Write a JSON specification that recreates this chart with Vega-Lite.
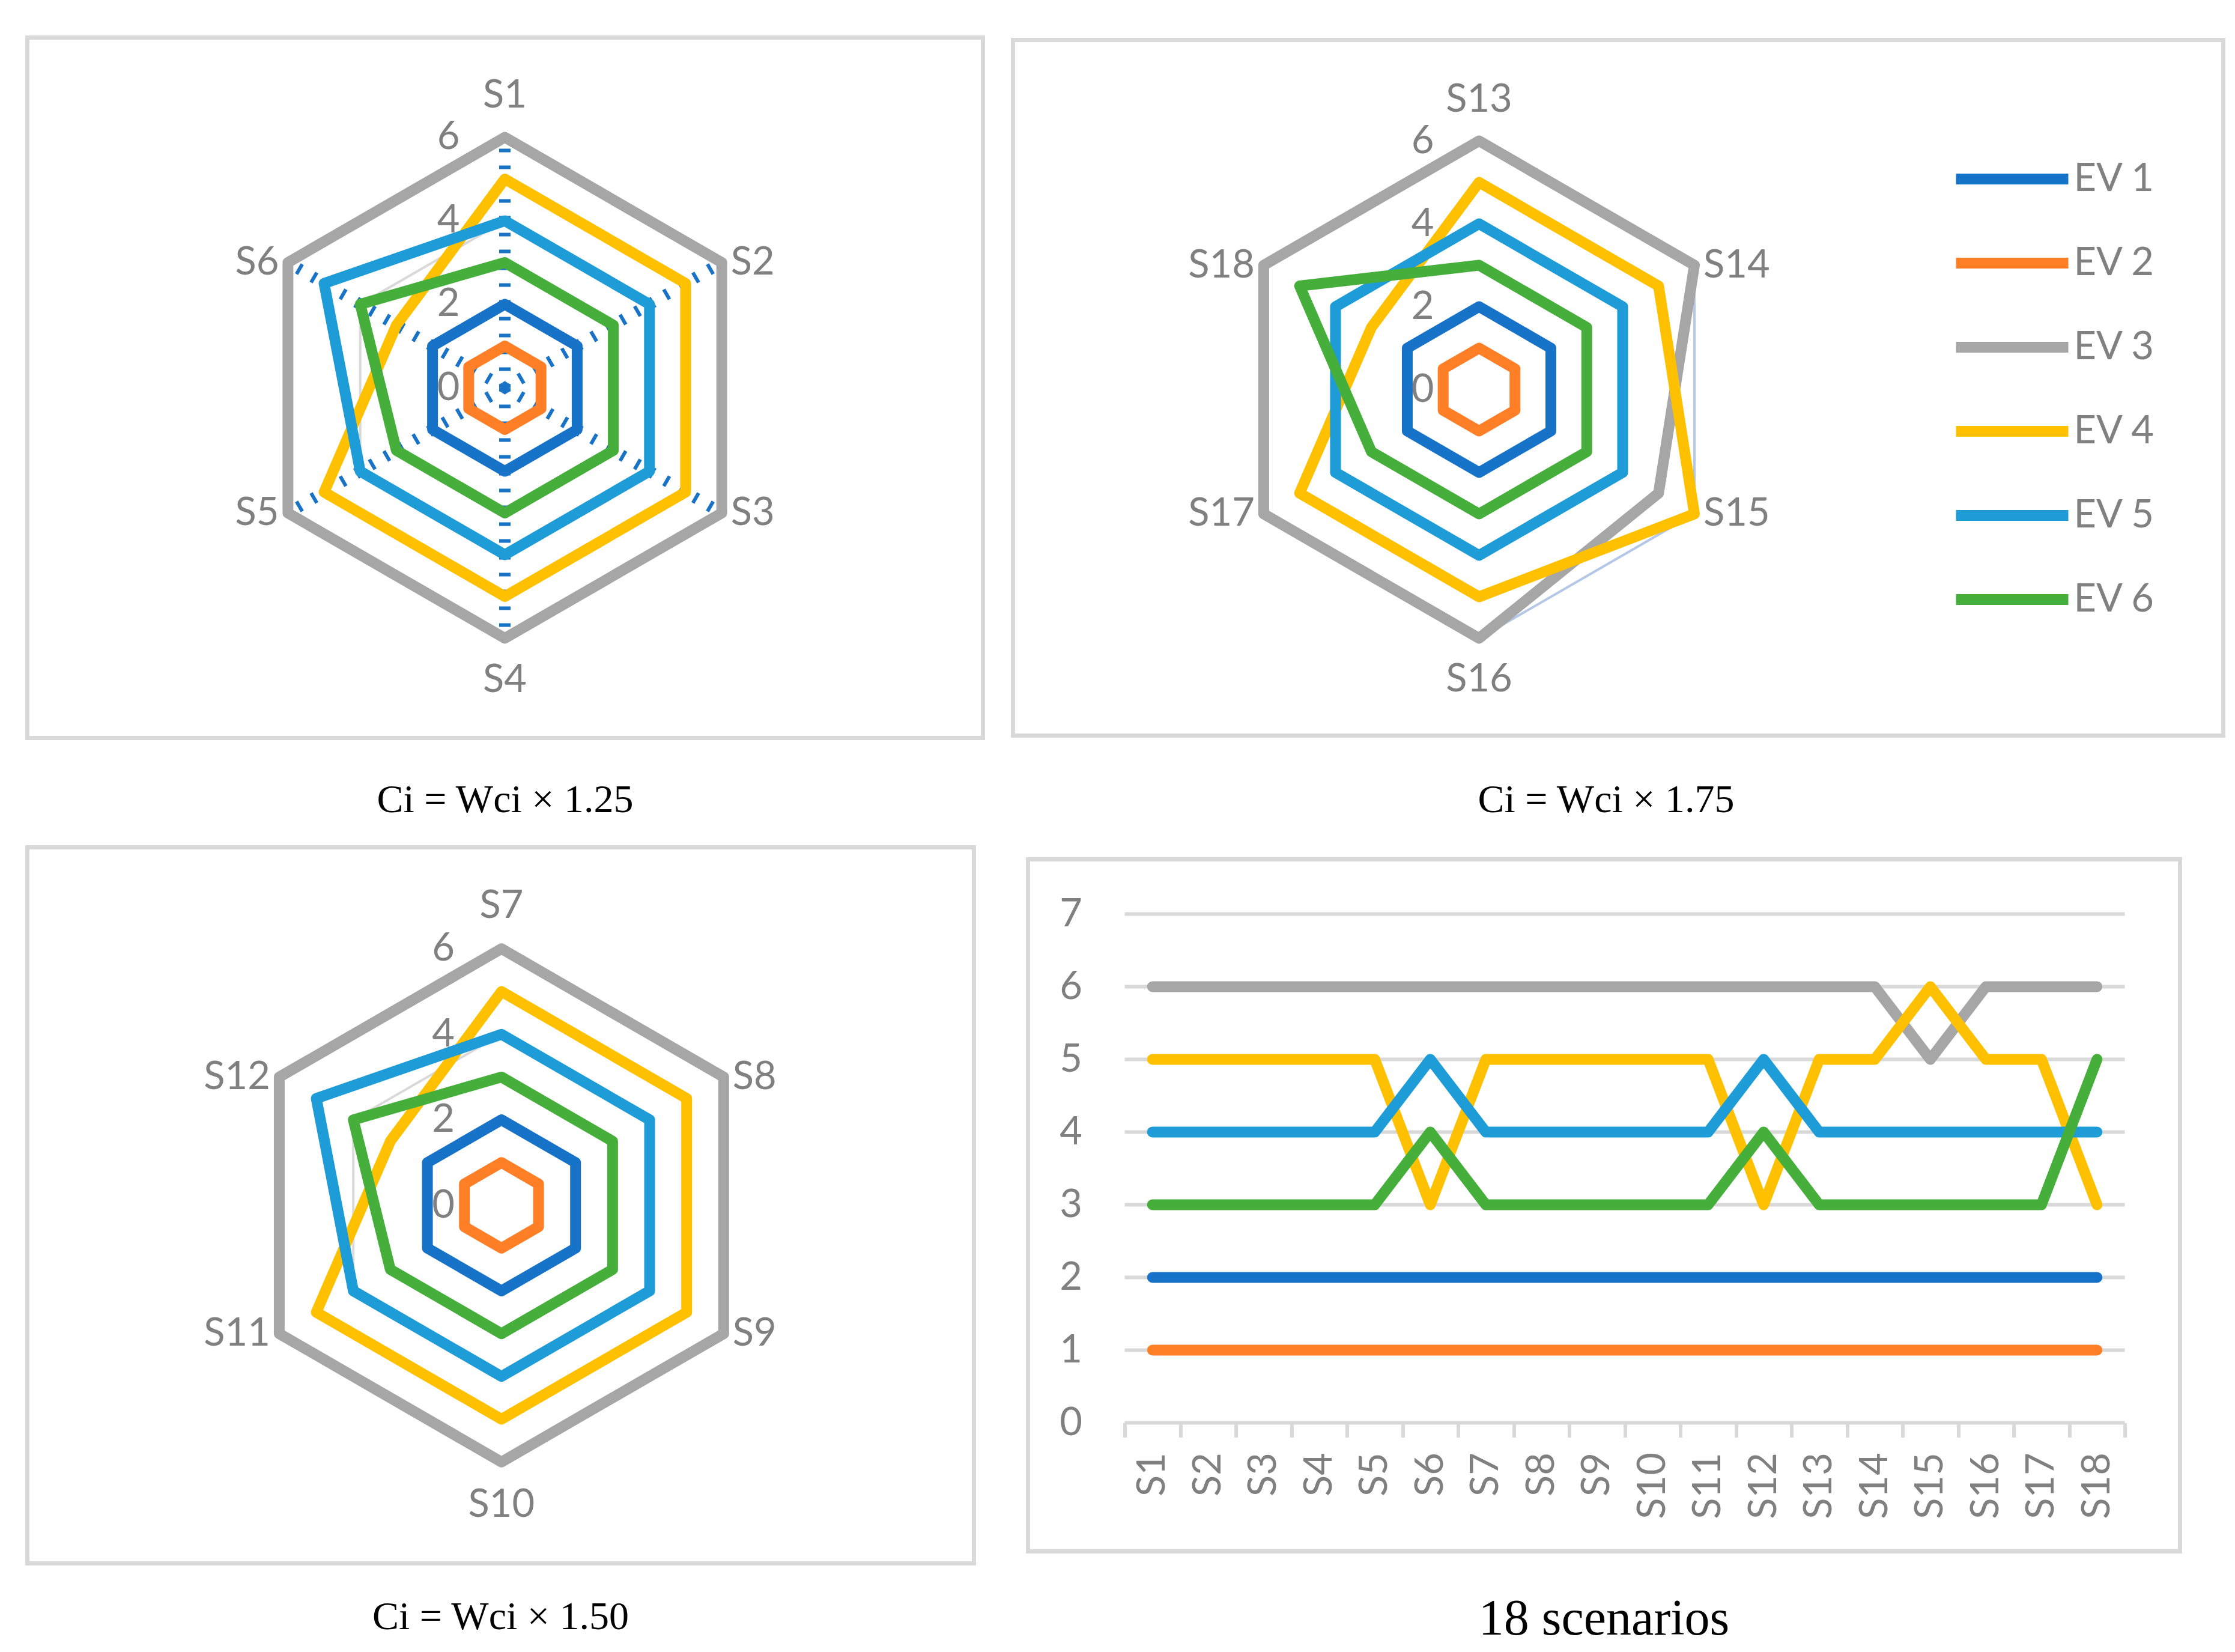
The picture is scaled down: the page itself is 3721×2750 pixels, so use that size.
{
  "$schema": "https://vega.github.io/schema/vega-lite/v6.json",
  "background": "white",
  "padding": {"left": 41.5, "top": 58.5, "right": 0, "bottom": 0},
  "autosize": {"type": "pad"},
  "datasets": {
    "scores": [
      {"scenario": "S1", "ev": "EV 1", "value": 2}, {"scenario": "S1", "ev": "EV 2", "value": 1}, {"scenario": "S1", "ev": "EV 3", "value": 6}, {"scenario": "S1", "ev": "EV 4", "value": 5}, {"scenario": "S1", "ev": "EV 5", "value": 4}, {"scenario": "S1", "ev": "EV 6", "value": 3},
      {"scenario": "S2", "ev": "EV 1", "value": 2}, {"scenario": "S2", "ev": "EV 2", "value": 1}, {"scenario": "S2", "ev": "EV 3", "value": 6}, {"scenario": "S2", "ev": "EV 4", "value": 5}, {"scenario": "S2", "ev": "EV 5", "value": 4}, {"scenario": "S2", "ev": "EV 6", "value": 3},
      {"scenario": "S3", "ev": "EV 1", "value": 2}, {"scenario": "S3", "ev": "EV 2", "value": 1}, {"scenario": "S3", "ev": "EV 3", "value": 6}, {"scenario": "S3", "ev": "EV 4", "value": 5}, {"scenario": "S3", "ev": "EV 5", "value": 4}, {"scenario": "S3", "ev": "EV 6", "value": 3},
      {"scenario": "S4", "ev": "EV 1", "value": 2}, {"scenario": "S4", "ev": "EV 2", "value": 1}, {"scenario": "S4", "ev": "EV 3", "value": 6}, {"scenario": "S4", "ev": "EV 4", "value": 5}, {"scenario": "S4", "ev": "EV 5", "value": 4}, {"scenario": "S4", "ev": "EV 6", "value": 3},
      {"scenario": "S5", "ev": "EV 1", "value": 2}, {"scenario": "S5", "ev": "EV 2", "value": 1}, {"scenario": "S5", "ev": "EV 3", "value": 6}, {"scenario": "S5", "ev": "EV 4", "value": 5}, {"scenario": "S5", "ev": "EV 5", "value": 4}, {"scenario": "S5", "ev": "EV 6", "value": 3},
      {"scenario": "S6", "ev": "EV 1", "value": 2}, {"scenario": "S6", "ev": "EV 2", "value": 1}, {"scenario": "S6", "ev": "EV 3", "value": 6}, {"scenario": "S6", "ev": "EV 4", "value": 3}, {"scenario": "S6", "ev": "EV 5", "value": 5}, {"scenario": "S6", "ev": "EV 6", "value": 4},
      {"scenario": "S7", "ev": "EV 1", "value": 2}, {"scenario": "S7", "ev": "EV 2", "value": 1}, {"scenario": "S7", "ev": "EV 3", "value": 6}, {"scenario": "S7", "ev": "EV 4", "value": 5}, {"scenario": "S7", "ev": "EV 5", "value": 4}, {"scenario": "S7", "ev": "EV 6", "value": 3},
      {"scenario": "S8", "ev": "EV 1", "value": 2}, {"scenario": "S8", "ev": "EV 2", "value": 1}, {"scenario": "S8", "ev": "EV 3", "value": 6}, {"scenario": "S8", "ev": "EV 4", "value": 5}, {"scenario": "S8", "ev": "EV 5", "value": 4}, {"scenario": "S8", "ev": "EV 6", "value": 3},
      {"scenario": "S9", "ev": "EV 1", "value": 2}, {"scenario": "S9", "ev": "EV 2", "value": 1}, {"scenario": "S9", "ev": "EV 3", "value": 6}, {"scenario": "S9", "ev": "EV 4", "value": 5}, {"scenario": "S9", "ev": "EV 5", "value": 4}, {"scenario": "S9", "ev": "EV 6", "value": 3},
      {"scenario": "S10", "ev": "EV 1", "value": 2}, {"scenario": "S10", "ev": "EV 2", "value": 1}, {"scenario": "S10", "ev": "EV 3", "value": 6}, {"scenario": "S10", "ev": "EV 4", "value": 5}, {"scenario": "S10", "ev": "EV 5", "value": 4}, {"scenario": "S10", "ev": "EV 6", "value": 3},
      {"scenario": "S11", "ev": "EV 1", "value": 2}, {"scenario": "S11", "ev": "EV 2", "value": 1}, {"scenario": "S11", "ev": "EV 3", "value": 6}, {"scenario": "S11", "ev": "EV 4", "value": 5}, {"scenario": "S11", "ev": "EV 5", "value": 4}, {"scenario": "S11", "ev": "EV 6", "value": 3},
      {"scenario": "S12", "ev": "EV 1", "value": 2}, {"scenario": "S12", "ev": "EV 2", "value": 1}, {"scenario": "S12", "ev": "EV 3", "value": 6}, {"scenario": "S12", "ev": "EV 4", "value": 3}, {"scenario": "S12", "ev": "EV 5", "value": 5}, {"scenario": "S12", "ev": "EV 6", "value": 4},
      {"scenario": "S13", "ev": "EV 1", "value": 2}, {"scenario": "S13", "ev": "EV 2", "value": 1}, {"scenario": "S13", "ev": "EV 3", "value": 6}, {"scenario": "S13", "ev": "EV 4", "value": 5}, {"scenario": "S13", "ev": "EV 5", "value": 4}, {"scenario": "S13", "ev": "EV 6", "value": 3},
      {"scenario": "S14", "ev": "EV 1", "value": 2}, {"scenario": "S14", "ev": "EV 2", "value": 1}, {"scenario": "S14", "ev": "EV 3", "value": 6}, {"scenario": "S14", "ev": "EV 4", "value": 5}, {"scenario": "S14", "ev": "EV 5", "value": 4}, {"scenario": "S14", "ev": "EV 6", "value": 3},
      {"scenario": "S15", "ev": "EV 1", "value": 2}, {"scenario": "S15", "ev": "EV 2", "value": 1}, {"scenario": "S15", "ev": "EV 3", "value": 5}, {"scenario": "S15", "ev": "EV 4", "value": 6}, {"scenario": "S15", "ev": "EV 5", "value": 4}, {"scenario": "S15", "ev": "EV 6", "value": 3},
      {"scenario": "S16", "ev": "EV 1", "value": 2}, {"scenario": "S16", "ev": "EV 2", "value": 1}, {"scenario": "S16", "ev": "EV 3", "value": 6}, {"scenario": "S16", "ev": "EV 4", "value": 5}, {"scenario": "S16", "ev": "EV 5", "value": 4}, {"scenario": "S16", "ev": "EV 6", "value": 3},
      {"scenario": "S17", "ev": "EV 1", "value": 2}, {"scenario": "S17", "ev": "EV 2", "value": 1}, {"scenario": "S17", "ev": "EV 3", "value": 6}, {"scenario": "S17", "ev": "EV 4", "value": 5}, {"scenario": "S17", "ev": "EV 5", "value": 4}, {"scenario": "S17", "ev": "EV 6", "value": 3},
      {"scenario": "S18", "ev": "EV 1", "value": 2}, {"scenario": "S18", "ev": "EV 2", "value": 1}, {"scenario": "S18", "ev": "EV 3", "value": 6}, {"scenario": "S18", "ev": "EV 4", "value": 3}, {"scenario": "S18", "ev": "EV 5", "value": 4}, {"scenario": "S18", "ev": "EV 6", "value": 5}
    ],
    "grid": [
      {"level": 2, "spoke": 0}, {"level": 2, "spoke": 1}, {"level": 2, "spoke": 2}, {"level": 2, "spoke": 3}, {"level": 2, "spoke": 4}, {"level": 2, "spoke": 5},
      {"level": 4, "spoke": 0}, {"level": 4, "spoke": 1}, {"level": 4, "spoke": 2}, {"level": 4, "spoke": 3}, {"level": 4, "spoke": 4}, {"level": 4, "spoke": 5},
      {"level": 6, "spoke": 0}, {"level": 6, "spoke": 1}, {"level": 6, "spoke": 2}, {"level": 6, "spoke": 3}, {"level": 6, "spoke": 4}, {"level": 6, "spoke": 5}
    ],
    "radarTicks": [{"level": 0}, {"level": 2}, {"level": 4}, {"level": 6}],
    "lineTicks": [
      {"v": 0, "first": "S1", "last": "S18"}, {"v": 1, "first": "S1", "last": "S18"}, {"v": 2, "first": "S1", "last": "S18"}, {"v": 3, "first": "S1", "last": "S18"},
      {"v": 4, "first": "S1", "last": "S18"}, {"v": 5, "first": "S1", "last": "S18"}, {"v": 6, "first": "S1", "last": "S18"}, {"v": 7, "first": "S1", "last": "S18"}
    ]
  },
  "spacing": 38,
  "vconcat": [
    {
      "hconcat": [
        {
          "width": 1591,
          "height": 1166,
          "title": {"text": "Ci = Wci × 1.25", "offset": 71},
          "layer": [
            {
              "data": {"name": "grid"},
              "transform": [
                {"calculate": "datum.level * sin(datum.spoke * PI / 3)", "as": "gx"},
                {"calculate": "datum.level * cos(datum.spoke * PI / 3)", "as": "gy"}
              ],
              "mark": {"type": "line", "interpolate": "linear-closed", "color": "#d9d9d9", "strokeWidth": 4},
              "encoding": {
                "x": {"field": "gx", "type": "quantitative", "scale": {"domain": [-11.439, 11.453], "nice": false, "zero": false}, "axis": null},
                "y": {"field": "gy", "type": "quantitative", "scale": {"domain": [-8.388, 8.388], "nice": false, "zero": false}, "axis": null},
                "detail": {"field": "level", "type": "nominal"},
                "order": {"field": "spoke", "type": "quantitative"}
              }
            },
            {
              "data": {"name": "grid"},
              "transform": [
                {"filter": "datum.level == 6"},
                {"calculate": "0", "as": "cx"},
                {"calculate": "0", "as": "cy"},
                {"calculate": "datum.level * sin(datum.spoke * PI / 3)", "as": "gx"},
                {"calculate": "datum.level * cos(datum.spoke * PI / 3)", "as": "gy"}
              ],
              "mark": {"type": "rule", "color": "#1872c6", "strokeWidth": 19, "strokeDash": [6, 22]},
              "encoding": {
                "x": {"field": "cx", "type": "quantitative", "axis": null},
                "y": {"field": "cy", "type": "quantitative", "axis": null},
                "x2": {"field": "gx"},
                "y2": {"field": "gy"}
              }
            },
            {
              "data": {"name": "scores"},
              "transform": [
                {"calculate": "toNumber(substring(datum.scenario, 1))", "as": "n"},
                {"filter": "datum.n <= 6"},
                {"calculate": "(datum.n - 1) % 6", "as": "k"},
                {"calculate": "datum.value * sin(datum.k * PI / 3)", "as": "px"},
                {"calculate": "datum.value * cos(datum.k * PI / 3)", "as": "py"}
              ],
              "mark": {"type": "line", "interpolate": "linear-closed", "strokeWidth": 18, "strokeJoin": "round"},
              "encoding": {
                "x": {"field": "px", "type": "quantitative", "axis": null},
                "y": {"field": "py", "type": "quantitative", "axis": null},
                "color": {"field": "ev", "type": "nominal", "title": null, "scale": {"domain": ["EV 1", "EV 2", "EV 3", "EV 4", "EV 5", "EV 6"], "range": ["#1773c7", "#ff7f27", "#a6a6a6", "#ffc000", "#1e9cd7", "#46ae3b"]}, "legend": {"orient": "none", "legendX": 3202, "legendY": 133}},
                "order": {"field": "k", "type": "quantitative"}
              }
            },
            {
              "data": {"name": "radarTicks"},
              "transform": [{"calculate": "0", "as": "tx"}],
              "mark": {"type": "text", "align": "right", "baseline": "middle", "dx": -75, "font": "Lato", "fontSize": 65, "color": "#808080"},
              "encoding": {
                "x": {"field": "tx", "type": "quantitative", "axis": null},
                "y": {"field": "level", "type": "quantitative", "axis": null},
                "text": {"field": "level", "type": "nominal"}
              }
            },
            {
              "data": {"name": "scores"},
              "transform": [
                {"calculate": "toNumber(substring(datum.scenario, 1))", "as": "n"},
                {"filter": "datum.n <= 6 && datum.ev == 'EV 1'"},
                {"calculate": "(datum.n - 1) % 6", "as": "k"},
                {"filter": "datum.k % 3 == 0"},
                {"calculate": "7 * sin(datum.k * PI / 3)", "as": "lx"},
                {"calculate": "7 * cos(datum.k * PI / 3)", "as": "ly"}
              ],
              "mark": {"type": "text", "align": "center", "baseline": "middle", "font": "Lato", "fontSize": 65, "color": "#808080"},
              "encoding": {
                "x": {"field": "lx", "type": "quantitative", "axis": null},
                "y": {"field": "ly", "type": "quantitative", "axis": null},
                "text": {"field": "scenario", "type": "nominal"}
              }
            },
            {
              "data": {"name": "scores"},
              "transform": [
                {"calculate": "toNumber(substring(datum.scenario, 1))", "as": "n"},
                {"filter": "datum.n <= 6 && datum.ev == 'EV 1'"},
                {"calculate": "(datum.n - 1) % 6", "as": "k"},
                {"filter": "datum.k == 1 || datum.k == 2"},
                {"calculate": "6 * sin(datum.k * PI / 3)", "as": "lx"},
                {"calculate": "6 * cos(datum.k * PI / 3)", "as": "ly"}
              ],
              "mark": {"type": "text", "align": "left", "baseline": "middle", "dx": 15, "font": "Lato", "fontSize": 65, "color": "#808080"},
              "encoding": {
                "x": {"field": "lx", "type": "quantitative", "axis": null},
                "y": {"field": "ly", "type": "quantitative", "axis": null},
                "text": {"field": "scenario", "type": "nominal"}
              }
            },
            {
              "data": {"name": "scores"},
              "transform": [
                {"calculate": "toNumber(substring(datum.scenario, 1))", "as": "n"},
                {"filter": "datum.n <= 6 && datum.ev == 'EV 1'"},
                {"calculate": "(datum.n - 1) % 6", "as": "k"},
                {"filter": "datum.k == 4 || datum.k == 5"},
                {"calculate": "6 * sin(datum.k * PI / 3)", "as": "lx"},
                {"calculate": "6 * cos(datum.k * PI / 3)", "as": "ly"}
              ],
              "mark": {"type": "text", "align": "right", "baseline": "middle", "dx": -15, "font": "Lato", "fontSize": 65, "color": "#808080"},
              "encoding": {
                "x": {"field": "lx", "type": "quantitative", "axis": null},
                "y": {"field": "ly", "type": "quantitative", "axis": null},
                "text": {"field": "scenario", "type": "nominal"}
              }
            }
          ]
        },
        {
          "width": 2015,
          "height": 1158,
          "title": {"text": "Ci = Wci × 1.75", "offset": 75, "dx": -20},
          "layer": [
            {
              "data": {"name": "grid"},
              "transform": [
                {"calculate": "datum.level * sin(datum.spoke * PI / 3)", "as": "gx"},
                {"calculate": "datum.level * cos(datum.spoke * PI / 3)", "as": "gy"}
              ],
              "mark": {"type": "line", "interpolate": "linear-closed", "color": "#b4c7e7", "strokeWidth": 4},
              "encoding": {
                "x": {"field": "gx", "type": "quantitative", "scale": {"domain": [-11.246, 17.957], "nice": false, "zero": false}, "axis": null},
                "y": {"field": "gy", "type": "quantitative", "scale": {"domain": [-8.348, 8.435], "nice": false, "zero": false}, "axis": null},
                "detail": {"field": "level", "type": "nominal"},
                "order": {"field": "spoke", "type": "quantitative"}
              }
            },
            {
              "data": {"name": "scores"},
              "transform": [
                {"calculate": "toNumber(substring(datum.scenario, 1))", "as": "n"},
                {"filter": "datum.n >= 13"},
                {"calculate": "(datum.n - 1) % 6", "as": "k"},
                {"calculate": "datum.value * sin(datum.k * PI / 3)", "as": "px"},
                {"calculate": "datum.value * cos(datum.k * PI / 3)", "as": "py"}
              ],
              "mark": {"type": "line", "interpolate": "linear-closed", "strokeWidth": 18, "strokeJoin": "round"},
              "encoding": {
                "x": {"field": "px", "type": "quantitative", "axis": null},
                "y": {"field": "py", "type": "quantitative", "axis": null},
                "color": {"field": "ev", "type": "nominal", "title": null, "scale": {"domain": ["EV 1", "EV 2", "EV 3", "EV 4", "EV 5", "EV 6"], "range": ["#1773c7", "#ff7f27", "#a6a6a6", "#ffc000", "#1e9cd7", "#46ae3b"]}, "legend": {"orient": "none", "legendX": 3202, "legendY": 133}},
                "order": {"field": "k", "type": "quantitative"}
              }
            },
            {
              "data": {"name": "radarTicks"},
              "transform": [{"calculate": "0", "as": "tx"}],
              "mark": {"type": "text", "align": "right", "baseline": "middle", "dx": -75, "font": "Lato", "fontSize": 65, "color": "#808080"},
              "encoding": {
                "x": {"field": "tx", "type": "quantitative", "axis": null},
                "y": {"field": "level", "type": "quantitative", "axis": null},
                "text": {"field": "level", "type": "nominal"}
              }
            },
            {
              "data": {"name": "scores"},
              "transform": [
                {"calculate": "toNumber(substring(datum.scenario, 1))", "as": "n"},
                {"filter": "datum.n >= 13 && datum.ev == 'EV 1'"},
                {"calculate": "(datum.n - 1) % 6", "as": "k"},
                {"filter": "datum.k % 3 == 0"},
                {"calculate": "7 * sin(datum.k * PI / 3)", "as": "lx"},
                {"calculate": "7 * cos(datum.k * PI / 3)", "as": "ly"}
              ],
              "mark": {"type": "text", "align": "center", "baseline": "middle", "font": "Lato", "fontSize": 65, "color": "#808080"},
              "encoding": {
                "x": {"field": "lx", "type": "quantitative", "axis": null},
                "y": {"field": "ly", "type": "quantitative", "axis": null},
                "text": {"field": "scenario", "type": "nominal"}
              }
            },
            {
              "data": {"name": "scores"},
              "transform": [
                {"calculate": "toNumber(substring(datum.scenario, 1))", "as": "n"},
                {"filter": "datum.n >= 13 && datum.ev == 'EV 1'"},
                {"calculate": "(datum.n - 1) % 6", "as": "k"},
                {"filter": "datum.k == 1 || datum.k == 2"},
                {"calculate": "6 * sin(datum.k * PI / 3)", "as": "lx"},
                {"calculate": "6 * cos(datum.k * PI / 3)", "as": "ly"}
              ],
              "mark": {"type": "text", "align": "left", "baseline": "middle", "dx": 15, "font": "Lato", "fontSize": 65, "color": "#808080"},
              "encoding": {
                "x": {"field": "lx", "type": "quantitative", "axis": null},
                "y": {"field": "ly", "type": "quantitative", "axis": null},
                "text": {"field": "scenario", "type": "nominal"}
              }
            },
            {
              "data": {"name": "scores"},
              "transform": [
                {"calculate": "toNumber(substring(datum.scenario, 1))", "as": "n"},
                {"filter": "datum.n >= 13 && datum.ev == 'EV 1'"},
                {"calculate": "(datum.n - 1) % 6", "as": "k"},
                {"filter": "datum.k == 4 || datum.k == 5"},
                {"calculate": "6 * sin(datum.k * PI / 3)", "as": "lx"},
                {"calculate": "6 * cos(datum.k * PI / 3)", "as": "ly"}
              ],
              "mark": {"type": "text", "align": "right", "baseline": "middle", "dx": -15, "font": "Lato", "fontSize": 65, "color": "#808080"},
              "encoding": {
                "x": {"field": "lx", "type": "quantitative", "axis": null},
                "y": {"field": "ly", "type": "quantitative", "axis": null},
                "text": {"field": "scenario", "type": "nominal"}
              }
            }
          ]
        }
      ],
      "spacing": 50,
      "bounds": "flush",
      "center": true
    },
    {
      "hconcat": [
        {
          "width": 1576,
          "height": 1192,
          "title": {"text": "Ci = Wci × 1.50", "offset": 57},
          "layer": [
            {
              "data": {"name": "grid"},
              "transform": [
                {"calculate": "datum.level * sin(datum.spoke * PI / 3)", "as": "gx"},
                {"calculate": "datum.level * cos(datum.spoke * PI / 3)", "as": "gy"}
              ],
              "mark": {"type": "line", "interpolate": "linear-closed", "color": "#d9d9d9", "strokeWidth": 4},
              "encoding": {
                "x": {"field": "gx", "type": "quantitative", "scale": {"domain": [-11.087, 11.048], "nice": false, "zero": false}, "axis": null},
                "y": {"field": "gy", "type": "quantitative", "scale": {"domain": [-8.371, 8.371], "nice": false, "zero": false}, "axis": null},
                "detail": {"field": "level", "type": "nominal"},
                "order": {"field": "spoke", "type": "quantitative"}
              }
            },
            {
              "data": {"name": "scores"},
              "transform": [
                {"calculate": "toNumber(substring(datum.scenario, 1))", "as": "n"},
                {"filter": "datum.n >= 7 && datum.n <= 12"},
                {"calculate": "(datum.n - 1) % 6", "as": "k"},
                {"calculate": "datum.value * sin(datum.k * PI / 3)", "as": "px"},
                {"calculate": "datum.value * cos(datum.k * PI / 3)", "as": "py"}
              ],
              "mark": {"type": "line", "interpolate": "linear-closed", "strokeWidth": 18, "strokeJoin": "round"},
              "encoding": {
                "x": {"field": "px", "type": "quantitative", "axis": null},
                "y": {"field": "py", "type": "quantitative", "axis": null},
                "color": {"field": "ev", "type": "nominal", "title": null, "scale": {"domain": ["EV 1", "EV 2", "EV 3", "EV 4", "EV 5", "EV 6"], "range": ["#1773c7", "#ff7f27", "#a6a6a6", "#ffc000", "#1e9cd7", "#46ae3b"]}, "legend": {"orient": "none", "legendX": 3202, "legendY": 133}},
                "order": {"field": "k", "type": "quantitative"}
              }
            },
            {
              "data": {"name": "radarTicks"},
              "transform": [{"calculate": "0", "as": "tx"}],
              "mark": {"type": "text", "align": "right", "baseline": "middle", "dx": -78, "font": "Lato", "fontSize": 65, "color": "#808080"},
              "encoding": {
                "x": {"field": "tx", "type": "quantitative", "axis": null},
                "y": {"field": "level", "type": "quantitative", "axis": null},
                "text": {"field": "level", "type": "nominal"}
              }
            },
            {
              "data": {"name": "scores"},
              "transform": [
                {"calculate": "toNumber(substring(datum.scenario, 1))", "as": "n"},
                {"filter": "datum.n >= 7 && datum.n <= 12 && datum.ev == 'EV 1'"},
                {"calculate": "(datum.n - 1) % 6", "as": "k"},
                {"filter": "datum.k % 3 == 0"},
                {"calculate": "7 * sin(datum.k * PI / 3)", "as": "lx"},
                {"calculate": "7 * cos(datum.k * PI / 3)", "as": "ly"}
              ],
              "mark": {"type": "text", "align": "center", "baseline": "middle", "font": "Lato", "fontSize": 65, "color": "#808080"},
              "encoding": {
                "x": {"field": "lx", "type": "quantitative", "axis": null},
                "y": {"field": "ly", "type": "quantitative", "axis": null},
                "text": {"field": "scenario", "type": "nominal"}
              }
            },
            {
              "data": {"name": "scores"},
              "transform": [
                {"calculate": "toNumber(substring(datum.scenario, 1))", "as": "n"},
                {"filter": "datum.n >= 7 && datum.n <= 12 && datum.ev == 'EV 1'"},
                {"calculate": "(datum.n - 1) % 6", "as": "k"},
                {"filter": "datum.k == 1 || datum.k == 2"},
                {"calculate": "6 * sin(datum.k * PI / 3)", "as": "lx"},
                {"calculate": "6 * cos(datum.k * PI / 3)", "as": "ly"}
              ],
              "mark": {"type": "text", "align": "left", "baseline": "middle", "dx": 15, "font": "Lato", "fontSize": 65, "color": "#808080"},
              "encoding": {
                "x": {"field": "lx", "type": "quantitative", "axis": null},
                "y": {"field": "ly", "type": "quantitative", "axis": null},
                "text": {"field": "scenario", "type": "nominal"}
              }
            },
            {
              "data": {"name": "scores"},
              "transform": [
                {"calculate": "toNumber(substring(datum.scenario, 1))", "as": "n"},
                {"filter": "datum.n >= 7 && datum.n <= 12 && datum.ev == 'EV 1'"},
                {"calculate": "(datum.n - 1) % 6", "as": "k"},
                {"filter": "datum.k == 4 || datum.k == 5"},
                {"calculate": "6 * sin(datum.k * PI / 3)", "as": "lx"},
                {"calculate": "6 * cos(datum.k * PI / 3)", "as": "ly"}
              ],
              "mark": {"type": "text", "align": "right", "baseline": "middle", "dx": -15, "font": "Lato", "fontSize": 65, "color": "#808080"},
              "encoding": {
                "x": {"field": "lx", "type": "quantitative", "axis": null},
                "y": {"field": "ly", "type": "quantitative", "axis": null},
                "text": {"field": "scenario", "type": "nominal"}
              }
            }
          ]
        },
        {
          "width": 1918,
          "height": 1152,
          "title": {"text": "18 scenarios", "fontSize": 84, "offset": 72},
          "layer": [
            {
              "data": {"name": "lineTicks"},
              "mark": {"type": "rule", "color": "#d9d9d9", "strokeWidth": 6},
              "encoding": {
                "y": {"field": "v", "type": "quantitative", "scale": {"domain": [-1.769, 7.752], "nice": false, "zero": false},
                  "axis": {"title": null, "orient": "left", "offset": -90, "domain": false, "ticks": false, "tickSize": 0, "grid": false, "values": [0, 1, 2, 3, 4, 5, 6, 7], "format": "d", "labelPadding": 0, "labelFont": "Lato", "labelFontSize": 65, "labelColor": "#808080"}},
                "x": {"field": "first", "type": "nominal", "bandPosition": 0,
                  "scale": {"type": "band", "domain": ["S1", "S2", "S3", "S4", "S5", "S6", "S7", "S8", "S9", "S10", "S11", "S12", "S13", "S14", "S15", "S16", "S17", "S18"], "range": [161, 1826], "paddingInner": 0, "paddingOuter": 0},
                  "axis": {"title": null, "orient": "bottom", "offset": -214, "domain": false, "ticks": true, "tickBand": "extent", "tickSize": 24, "tickWidth": 6, "tickColor": "#d9d9d9", "grid": false, "labelAngle": -90, "labelPadding": 25, "labelFont": "Lato", "labelFontSize": 65, "labelColor": "#808080"}},
                "x2": {"field": "last", "bandPosition": 1}
              }
            },
            {
              "data": {"name": "scores"},
              "mark": {"type": "line", "strokeWidth": 18, "strokeCap": "round", "strokeJoin": "round"},
              "encoding": {
                "x": {"field": "scenario", "type": "nominal"},
                "y": {"field": "value", "type": "quantitative"},
                "color": {"field": "ev", "type": "nominal", "title": null, "scale": {"domain": ["EV 1", "EV 2", "EV 3", "EV 4", "EV 5", "EV 6"], "range": ["#1773c7", "#ff7f27", "#a6a6a6", "#ffc000", "#1e9cd7", "#46ae3b"]}, "legend": {"orient": "none", "legendX": 3202, "legendY": 133}}
              }
            }
          ]
        }
      ],
      "spacing": 90,
      "bounds": "flush",
      "center": true
    }
  ],
  "config": {
    "view": {"stroke": "#d9d9d9", "strokeWidth": 7},
    "title": {"orient": "bottom", "font": "Liberation Serif", "fontSize": 66, "fontWeight": "normal", "color": "#000000", "baseline": "alphabetic", "anchor": "middle"},
    "legend": {"symbolType": "stroke", "symbolStrokeWidth": 18, "symbolSize": 34969, "labelFont": "Lato", "labelFontSize": 65, "labelColor": "#808080", "labelOffset": 0, "rowPadding": 1, "padding": 0, "labelLimit": 0}
  }
}
